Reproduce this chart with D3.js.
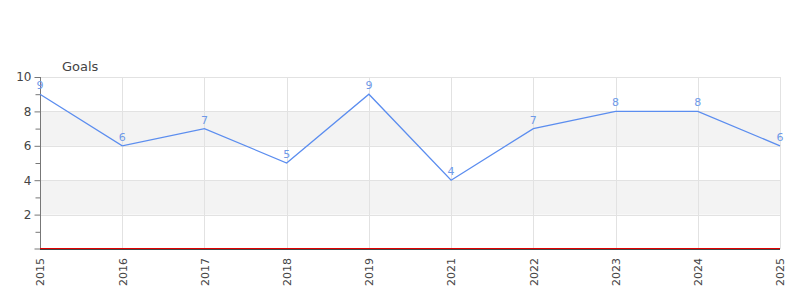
<!DOCTYPE html>
<html><head><meta charset="utf-8">
<script src="https://cdn.jsdelivr.net/npm/d3@7"></script>
<style>body{margin:0;background:#fff;font-family:"DejaVu Sans",sans-serif;}</style>
</head><body><svg id="c" width="800" height="300"></svg>
<script>
const years = ["2015","2016","2017","2018","2019","2021","2022","2023","2024","2025"];
const goals = [9,6,7,5,9,4,7,8,8,6];
const yTicks = [2,4,6,8,10];
const yMinor = [1,3,5,7,9];
const bands = [[2,4],[6,8]];

const svg = d3.select("#c");
const m = {l:40, r:20, t:77, b:51};
const W = 800, H = 300;
const x = d3.scalePoint().domain(years).range([m.l, W-m.r]);
const y = d3.scaleLinear().domain([0,10]).range([H-m.b, m.t]);

const g = svg.append("g");
g.selectAll("rect.band").data(bands).enter().append("rect")
  .attr("x", m.l).attr("width", W-m.r-m.l)
  .attr("y", d=>y(d[1])).attr("height", d=>y(d[0])-y(d[1]))
  .attr("fill","#f3f3f3");
g.selectAll("line.hg").data(yTicks).enter().append("line")
  .attr("x1", m.l).attr("x2", W-m.r)
  .attr("y1", d=>Math.round(y(d))+0.5).attr("y2", d=>Math.round(y(d))+0.5)
  .attr("stroke","#e2e2e2");
g.selectAll("line.vg").data(years).enter().append("line")
  .attr("x1", d=>Math.round(x(d))+0.5).attr("x2", d=>Math.round(x(d))+0.5)
  .attr("y1", y(10)).attr("y2", y(0))
  .attr("stroke","#e2e2e2");

// y axis
const ya = svg.append("g").attr("transform",`translate(${m.l+0.5},0)`)
  .call(d3.axisLeft(y).tickValues(yTicks).tickSize(6).tickPadding(3));
ya.select(".domain").attr("stroke","#777").attr("d",`M-6,${y(0)}H0V${y(10)}`);
ya.selectAll(".tick line").attr("stroke","#777");
ya.selectAll("text").attr("fill","#444").style("font-size","12px").style("font-family","DejaVu Sans");
const ym = svg.append("g").attr("transform",`translate(${m.l+0.5},0)`)
  .call(d3.axisLeft(y).tickValues(yMinor).tickSize(5).tickFormat(""));
ym.select(".domain").remove();
ym.selectAll(".tick line").attr("stroke","#777");

// x axis
const xa = svg.append("g").attr("transform",`translate(0,${y(0)})`)
  .call(d3.axisBottom(x).tickSize(0).tickPadding(0));
xa.select(".domain").remove();
xa.selectAll("text").attr("fill","#444").style("font-size","11px").style("font-family","DejaVu Sans")
  .attr("transform","rotate(-90)").attr("text-anchor","end")
  .attr("x",-9).attr("y",0).attr("dy","0.35em");
svg.append("line").attr("x1",m.l).attr("x2",W-m.r).attr("y1",y(0)+0.5).attr("y2",y(0)+0.5).attr("stroke","#444");
svg.append("line").attr("x1",m.l).attr("x2",W-m.r).attr("y1",y(0)-0.5).attr("y2",y(0)-0.5).attr("stroke","#e00000");

// line
const data = years.map((yr,i)=>({yr, v:goals[i]}));
svg.append("path").datum(data)
  .attr("fill","none").attr("stroke","#5b8def").attr("stroke-width",1.3)
  .attr("d", d3.line().x(d=>x(d.yr)).y(d=>y(d.v)));
svg.selectAll("text.lbl").data(data).enter().append("text")
  .attr("x", d=>x(d.yr)).attr("y", d=>y(d.v)-5)
  .attr("text-anchor","middle").attr("fill","#6f9ae8")
  .style("font-size","11px").text(d=>d.v);

svg.append("text").attr("x",62).attr("y",71).attr("fill","#444")
  .style("font-size","13px").text("Goals");
</script></body></html>
